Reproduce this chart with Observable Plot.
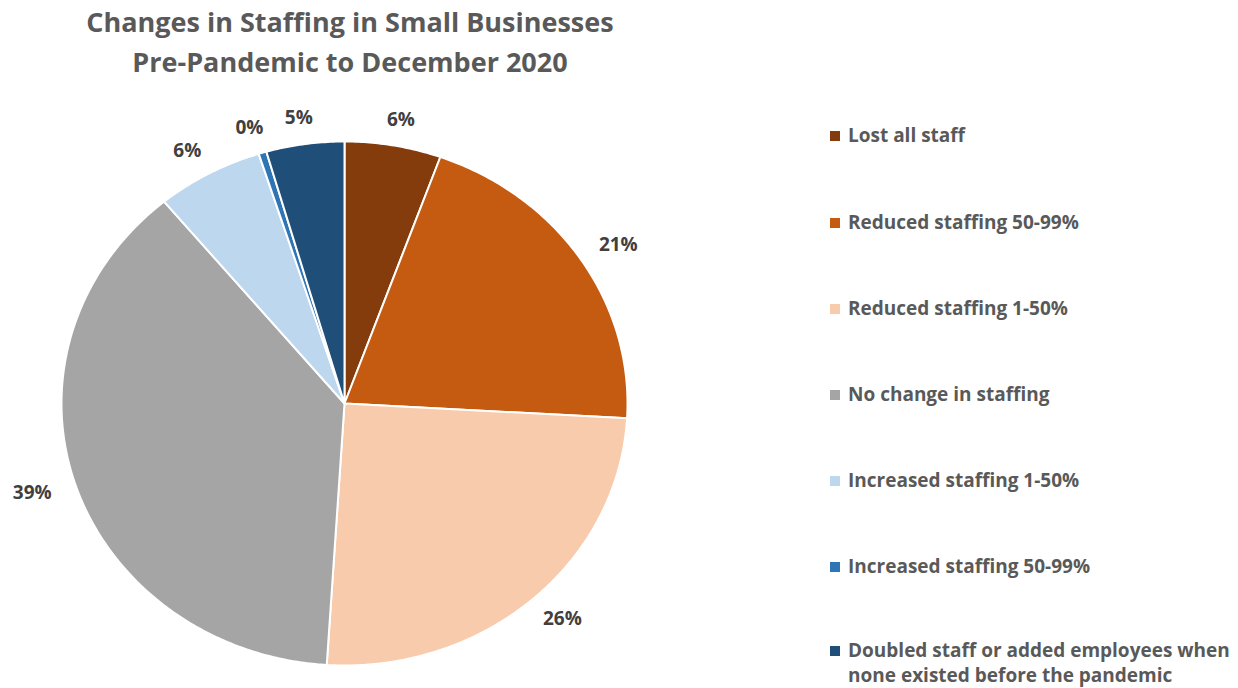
<!DOCTYPE html>
<html>
<head>
<meta charset="utf-8">
<script src="https://cdn.jsdelivr.net/npm/d3@7"></script>
<script src="https://cdn.jsdelivr.net/npm/@observablehq/plot@0.6"></script>
<style>
  html, body { margin: 0; padding: 0; background: #fff; }
  #wrap { position: relative; width: 1238px; height: 688px; overflow: hidden; font-family: "Open Sans", Lato, sans-serif; }
  #title { position: absolute; left: 0; top: 2px; width: 700px; text-align: center; color: #595959; font-weight: bold; font-size: 27px; line-height: 40px; }
  #chart { position: absolute; left: 0; top: 0; }
  #legend { position: absolute; left: 830px; top: 0; width: 410px; }
  .item { position: absolute; left: 0; display: flex; align-items: flex-start; color: #595959; font-weight: bold; font-size: 19px; line-height: 27px; white-space: nowrap; }
  .item.two { line-height: 25px; }
  .sw { width: 10px; height: 10px; margin-top: 9px; margin-right: 8px; flex: none; }
  .item.two .sw { margin-top: 8px; }
</style>
</head>
<body>
<div id="wrap">
  <div id="title">Changes in Staffing in Small Businesses<br>Pre-Pandemic to December 2020</div>
  <div id="chart"></div>
  <div id="legend"></div>
</div>
<script>
const categories = [
  "Lost all staff",
  "Reduced staffing 50-99%",
  "Reduced staffing 1-50%",
  "No change in staffing",
  "Increased staffing 1-50%",
  "Increased staffing 50-99%",
  "Doubled staff or added employees when none existed before the pandemic"
];
const shares = [5.5, 20.4, 25.1, 38.0, 6.1, 0.45, 4.45];
const labels = ["6%", "21%", "26%", "39%", "6%", "0%", "5%"];
const colors = ["#843C0C", "#C55A11", "#F8CBAD", "#A5A5A5", "#BDD7EE", "#2E75B6", "#1F4E79"];

const total = d3.sum(shares);
let acc = 0;
const slices = categories.map((c, i) => {
  const a0 = acc / total * 2 * Math.PI;
  acc += shares[i];
  const a1 = acc / total * 2 * Math.PI;
  return {category: c, a0, a1, mid: (a0 + a1) / 2, label: labels[i]};
});

// outline points for each slice (center -> arc -> center), angle measured clockwise from 12 o'clock
const pts = [];
slices.forEach(s => {
  pts.push({category: s.category, x: 0, y: 0});
  const n = Math.max(2, Math.ceil((s.a1 - s.a0) / 0.01));
  for (let k = 0; k <= n; k++) {
    const a = s.a0 + (s.a1 - s.a0) * k / n;
    pts.push({category: s.category, x: Math.sin(a), y: Math.cos(a)});
  }
  pts.push({category: s.category, x: 0, y: 0});
});

const chart = Plot.plot({
  width: 800,
  height: 688,
  margin: 0,
  x: {domain: [-1, 1], range: [61, 627], axis: null},
  y: {domain: [-1, 1], range: [665, 141], axis: null},
  color: {domain: categories, range: colors},
  style: {background: "transparent"},
  marks: [
    Plot.line(pts, {x: "x", y: "y", z: "category", fill: "category", stroke: "white", strokeWidth: 2, strokeLinejoin: "round", curve: "linear"}),
    Plot.text(slices, {
      x: d => 1.16 * Math.sin(d.mid),
      y: d => 1.1 * Math.cos(d.mid),
      text: "label",
      fill: "#404040",
      fontSize: 19,
      fontWeight: "bold",
      fontFamily: "'Open Sans', Lato, sans-serif"
    })
  ]
});
document.getElementById("chart").appendChild(chart);

const legend = document.getElementById("legend");
const legendTops = [122, 209, 295, 381, 467, 553, 638];
categories.forEach((c, i) => {
  const div = document.createElement("div");
  div.className = i === 6 ? "item two" : "item";
  div.style.top = legendTops[i] + "px";
  const sw = document.createElement("div");
  sw.className = "sw";
  sw.style.background = colors[i];
  const t = document.createElement("div");
  t.innerHTML = i === 6 ? "Doubled staff or added employees when<br>none existed before the pandemic" : c;
  div.appendChild(sw);
  div.appendChild(t);
  legend.appendChild(div);
});
</script>
</body>
</html>
